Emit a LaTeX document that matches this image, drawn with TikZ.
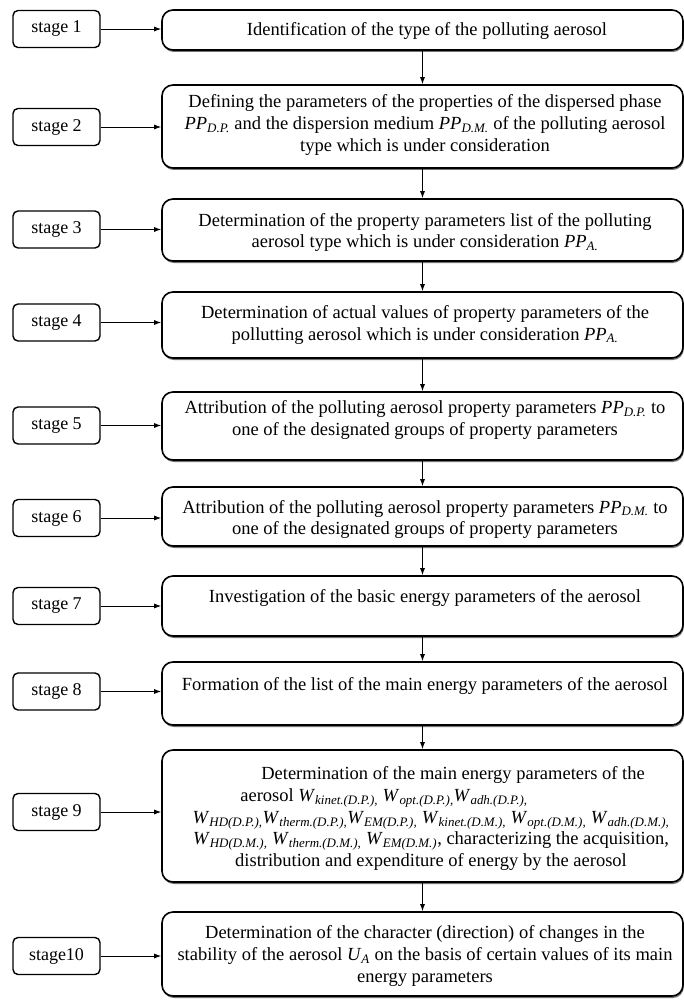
\documentclass[tikz,border=0pt]{standalone}
\usepackage{fontspec}
\setmainfont{Liberation Serif}
\usetikzlibrary{arrows.meta,shadows}
\newcommand\isub[2]{\textit{#1}\textsubscript{\textit{#2}}}
\begin{document}
\begin{tikzpicture}[x=1pt,y=-1pt,
  stagebox/.style={draw, line width=1.4pt, rounded corners=5pt, minimum width=87pt, minimum height=37pt, inner sep=0pt, font=\fontsize{18}{21}\selectfont},
  mainbox/.style={draw, line width=1.6pt, rounded corners=11pt, minimum width=521pt, inner sep=0pt, fill=white,
    drop shadow={shadow xshift=0.8pt, shadow yshift=-2pt, fill=black!55, opacity=1}},
  maintext/.style={align=center, inner sep=0pt, font=\fontsize{18.5}{21.7}\selectfont},
  arr/.style={-{Latex[length=7pt,width=5pt]}, line width=0.9pt}]
\useasboundingbox[fill=white] (0,0) rectangle (684,1000);
% main boxes
\node[mainbox, minimum height=40pt] (m1) at (422.5,30) {};
\node[mainbox, minimum height=83pt] (m2) at (422.5,126.5) {};
\node[mainbox, minimum height=62pt] (m3) at (422.5,230) {};
\node[mainbox, minimum height=66pt] (m4) at (422.5,325) {};
\node[mainbox, minimum height=68pt] (m5) at (422.5,426) {};
\node[mainbox, minimum height=59pt] (m6) at (422.5,516.5) {};
\node[mainbox, minimum height=60pt] (m7) at (422.5,606) {};
\node[mainbox, minimum height=63pt] (m8) at (422.5,693.5) {};
\node[mainbox, minimum height=132pt] (m9) at (422.5,816) {};
\node[mainbox, minimum height=84pt] (m10) at (422.5,954) {};
% texts
\node[maintext] (t1) at (427,31) {Identification of the type of the polluting aerosol};
\node[maintext] (t2) at (425,125) {Defining the parameters of the properties of the dispersed phase\\
  \isub{PP}{D.P.} and the dispersion medium \isub{PP}{D.M.} of the polluting aerosol\\
  type which is under consideration};
\node[maintext] (t3) at (425,232.5) {Determination of the property parameters list of the polluting\\
  aerosol type which is under consideration \isub{PP}{A.}};
\node[maintext] (t4) at (425,325) {Determination of actual values of property parameters of the\\
  pollutting aerosol which is under consideration \isub{PP}{A.}};
\node[maintext] (t5) at (425,420) {Attribution of the polluting aerosol property parameters \isub{PP}{D.P.} to\\
  one of the designated groups of property parameters};
\node[maintext] (t6) at (425,519.5) {Attribution of the polluting aerosol property parameters \isub{PP}{D.M.} to\\
  one of the designated groups of property parameters};
\node[maintext] (t7) at (425,598) {Investigation of the basic energy parameters of the aerosol};
\node[maintext] (t8) at (425,686) {Formation of the list of the main energy parameters of the aerosol};
\node[maintext] (t9) at (431,818.5) {\hspace*{44pt}Determination of the main energy parameters of the\\
  \hspace*{-94pt}aerosol \isub{W}{kinet.(D.P.),} \isub{W}{opt.(D.P.),}\isub{W}{adh.(D.P.),}\\
  \isub{W}{HD(D.P.),}\isub{W}{therm.(D.P.),}\isub{W}{EM(D.P.),} \isub{W}{kinet.(D.M.),} \isub{W}{opt.(D.M.),} \isub{W}{adh.(D.M.),}\\
  \isub{W}{HD(D.M.),} \isub{W}{therm.(D.M.),} \isub{W}{EM(D.M.)}, characterizing the acquisition,\\
  distribution and expenditure of energy by the aerosol};
\node[maintext] (t10) at (425,956) {Determination of the character (direction) of changes in the\\
  stability of the aerosol \isub{U}{A} on the basis of certain values of its main\\
  energy parameters};
% stage boxes
\node[stagebox] (s1) at (56.5,29) {stage 1};
\node[stagebox] (s2) at (56.5,127) {stage 2};
\node[stagebox] (s3) at (56.5,229.5) {stage 3};
\node[stagebox] (s4) at (56.5,322.5) {stage 4};
\node[stagebox] (s5) at (56.5,425.5) {stage 5};
\node[stagebox] (s6) at (56.5,518) {stage 6};
\node[stagebox] (s7) at (56.5,606) {stage 7};
\node[stagebox] (s8) at (56.5,691.5) {stage 8};
\node[stagebox] (s9) at (56.5,812) {stage 9};
\node[stagebox] (s10) at (56.5,956) {stage10};
% horizontal arrows
\foreach \i in {1,...,10} {
  \draw[arr] (s\i.east) -- (s\i.east -| m\i.west);
}
% vertical arrows
\foreach \i/\j in {1/2,2/3,3/4,4/5,5/6,6/7,7/8,8/9,9/10} {
  \draw[arr] (m\i.south) -- (m\j.north);
}
\end{tikzpicture}
\end{document}
